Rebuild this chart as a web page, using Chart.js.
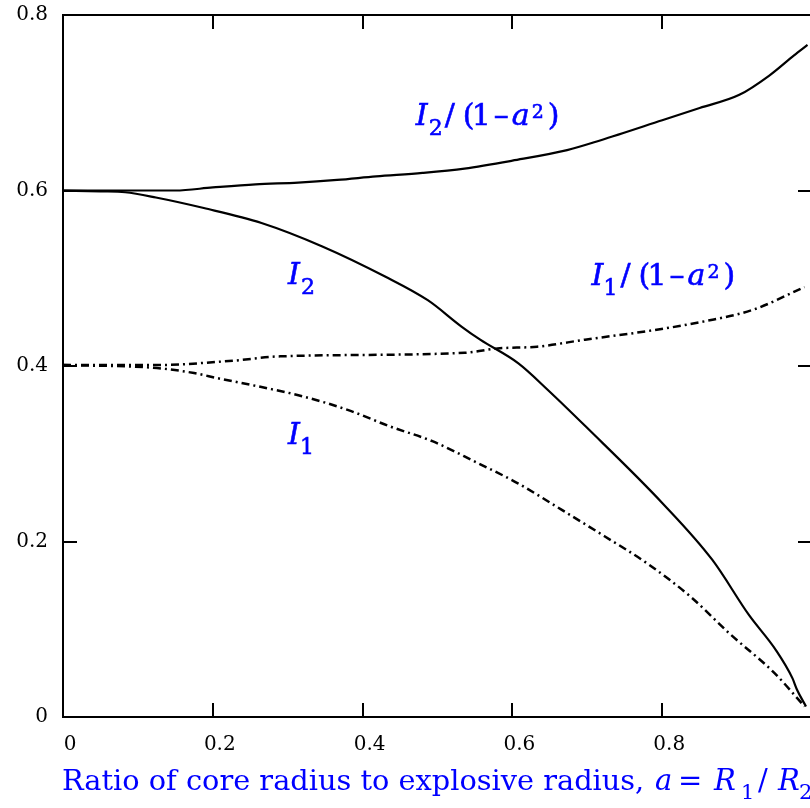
<!DOCTYPE html>
<html>
<head>
<meta charset="utf-8">
<script src="https://cdn.jsdelivr.net/npm/chart.js@4.4.0/dist/chart.umd.min.js"></script>
<style>
html, body { margin: 0; padding: 0; background: #fff; overflow: hidden; }
#wrap { width: 830px; height: 808px; }
</style>
</head>
<body>
<div id="wrap"><canvas id="myChart" width="830" height="808"></canvas></div>
<script>
// values
var i2A  = [0, 0.05, 0.083, 0.124, 0.188, 0.265, 0.347, 0.43, 0.487, 0.532, 0.557, 0.608, 0.647, 0.698, 0.80, 0.867, 0.916, 0.952, 0.974, 0.98, 0.992];
var i2V  = [0.600, 0.599, 0.598, 0.592, 0.580, 0.563, 0.536, 0.502, 0.475, 0.445, 0.430, 0.403, 0.373, 0.331, 0.244, 0.179, 0.116, 0.076, 0.044, 0.031, 0.012];

var i2nA = [0, 0.15, 0.2, 0.257, 0.314, 0.366, 0.418, 0.48, 0.536, 0.6, 0.673, 0.717, 0.8, 0.85, 0.903, 0.943, 0.976, 0.994];
var i2nV = [0.600, 0.600, 0.6035, 0.607, 0.609, 0.612, 0.616, 0.620, 0.625, 0.634, 0.646, 0.657, 0.680, 0.694, 0.709, 0.731, 0.754, 0.766];

var i1A  = [0, 0.12, 0.175, 0.207, 0.265, 0.322, 0.38, 0.437, 0.494, 0.55, 0.608, 0.666, 0.723, 0.78, 0.838, 0.89, 0.95, 0.99];
var i1V  = [0.401, 0.398, 0.392, 0.386, 0.376, 0.365, 0.350, 0.331, 0.314, 0.291, 0.266, 0.236, 0.206, 0.175, 0.137, 0.095, 0.050, 0.012];

var i1nA = [0, 0.12, 0.2265, 0.29, 0.536, 0.58, 0.633, 0.697, 0.79, 0.857, 0.921, 0.99];
var i1nV = [0.401, 0.401, 0.406, 0.411, 0.415, 0.420, 0.422, 0.430, 0.441, 0.451, 0.464, 0.490];

var xTicks = [0, 0.2, 0.4, 0.6, 0.8, 1];
var yTicks = [0, 0.2, 0.4, 0.6, 0.8];

var SERIF = '"DejaVu Serif", serif';
var BLUE = '#0000ff';

function pts(xs, ys) {
    return xs.map(function (x, i) { return { x: x, y: ys[i] }; });
}

function line(data, dash, w) {
    return {
        data: data,
        showLine: true,
        borderColor: '#000',
        borderWidth: w,
        borderDash: dash,
        pointRadius: 0,
        cubicInterpolationMode: 'monotone'
    };
}

// pieces of text; the ink of each piece starts at ox from the label start
function rich(ctx, x, y, parts, heavy) {
    ctx.save();
    ctx.fillStyle = BLUE;
    ctx.strokeStyle = BLUE;
    ctx.lineWidth = 0.6;
    ctx.textBaseline = 'alphabetic';
    ctx.textAlign = 'left';
    parts.forEach(function (p) {
        ctx.font = (p.it ? 'italic ' : '') + p.s + 'px ' + SERIF;
        var m = ctx.measureText(p.t);
        var px = x + p.ox + (m.actualBoundingBoxLeft || 0), py = y + (p.dy || 0);
        ctx.fillText(p.t, px, py);
        if (heavy) ctx.strokeText(p.t, px, py);
    });
    ctx.restore();
}

function ratioParts(sub) {
    return [
        { t: 'I', it: 1, s: 30, ox: 0 },
        { t: sub, s: 22, dy: 10, ox: 15 },
        { t: '/', s: 30, ox: 30 },
        { t: '(', s: 30, ox: 50 },
        { t: '1', s: 30, ox: 60 },
        { t: '\u2013', s: 30, ox: 80 },
        { t: 'a', it: 1, s: 30, ox: 98 },
        { t: '2', s: 19, dy: -7, ox: 118 },
        { t: ')', s: 30, ox: 135 }
    ];
}

var labels = [
    { a: 0.4697, v: 0.6746, parts: ratioParts('2') },
    { a: 0.299, v: 0.4934, parts: [{ t: 'I', it: 1, s: 30, ox: 0 }, { t: '2', s: 22, dy: 10, ox: 15 }] },
    { a: 0.7044, v: 0.4923, parts: ratioParts('1') },
    { a: 0.299, v: 0.3111, parts: [{ t: 'I', it: 1, s: 30, ox: 0 }, { t: '1', s: 22, dy: 10, ox: 15 }] }
];

var titleParts = [
    { t: 'Ratio of core radius to explosive radius,', s: 28.8, ox: 0 },
    { t: 'a', it: 1, s: 29, ox: 592 },
    { t: '=', s: 29, ox: 618 },
    { t: 'R', it: 1, s: 29, ox: 650 },
    { t: '1', s: 21, dy: 9, ox: 680 },
    { t: '/', s: 29, ox: 695 },
    { t: 'R', it: 1, s: 29, ox: 714 },
    { t: '2', s: 21, dy: 9, ox: 737 }
];

var framePlugin = {
    id: 'frame',
    afterDraw: function (chart) {
        var ctx = chart.ctx, ca = chart.chartArea;
        var xs = chart.scales.x, ys = chart.scales.y;
        ctx.save();
        ctx.strokeStyle = '#000';
        ctx.lineWidth = 2;
        ctx.strokeRect(ca.left, ca.top, ca.right - ca.left, ca.bottom - ca.top);
        ctx.beginPath();
        xTicks.forEach(function (t) {
            var px = Math.round(xs.getPixelForValue(t));
            ctx.moveTo(px, ca.bottom); ctx.lineTo(px, ca.bottom - 14);
            ctx.moveTo(px, ca.top); ctx.lineTo(px, ca.top + 14);
        });
        yTicks.forEach(function (t) {
            var py = Math.round(ys.getPixelForValue(t));
            ctx.moveTo(ca.left, py); ctx.lineTo(ca.left + 14, py);
            ctx.moveTo(ca.right, py); ctx.lineTo(ca.right - 14, py);
        });
        ctx.stroke();
        ctx.restore();

        labels.forEach(function (l) {
            rich(ctx, xs.getPixelForValue(l.a), ys.getPixelForValue(l.v), l.parts, true);
        });

        // axis title under the x axis
        rich(ctx, ca.left, 790, titleParts, false);
    }
};

var ctx = document.getElementById('myChart').getContext('2d');
var myChart = new Chart(ctx, {
    type: 'scatter',
    data: {
        datasets: [
            line(pts(i2nA, i2nV), [], 2.2),
            line(pts(i2A, i2V), [], 2.2),
            line(pts(i1nA, i1nV), [8, 4, 2, 4], 2.5),
            line(pts(i1A, i1V), [8, 4, 2, 4], 2.5)
        ]
    },
    options: {
        responsive: false,
        animation: false,
        layout: { padding: { left: 0, top: 15, right: 18, bottom: 0 } },
        plugins: { legend: { display: false }, tooltip: { enabled: false } },
        scales: {
            x: {
                type: 'linear', min: 0, max: 1,
                afterFit: function (s) { s.height = 91; s.paddingLeft = 0; s.paddingRight = 0; },
                afterBuildTicks: function (s) { s.ticks = xTicks.map(function (v) { return { value: v }; }); },
                grid: { display: false, drawTicks: false },
                border: { display: false },
                ticks: {
                    color: '#000', padding: 16, labelOffset: 7, maxRotation: 0,
                    font: { family: SERIF, size: 20 },
                    callback: function (v) { return String(v); }
                }
            },
            y: {
                type: 'linear', min: 0, max: 0.8,
                afterFit: function (s) { s.width = 63; s.paddingTop = 0; s.paddingBottom = 0; },
                afterBuildTicks: function (s) { s.ticks = yTicks.map(function (v) { return { value: v }; }); },
                grid: { display: false, drawTicks: false },
                border: { display: false },
                ticks: {
                    color: '#000', padding: 15,
                    font: { family: SERIF, size: 20 },
                    callback: function (v) { return String(+v.toFixed(1)); }
                }
            }
        }
    },
    plugins: [framePlugin]
});
</script>
</body>
</html>
